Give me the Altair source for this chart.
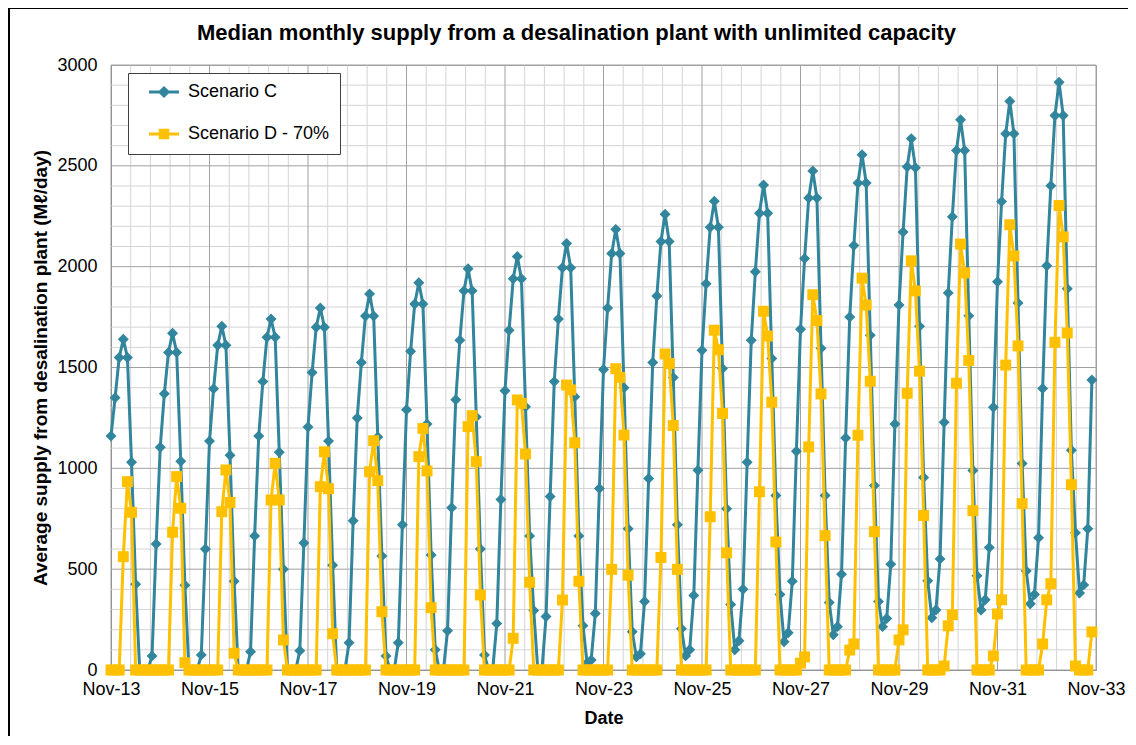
import altair as alt
import pandas as pd

TITLE = "Median monthly supply from a desalination plant with unlimited capacity"
Y_TITLE = "Average supply from desalination plant (M\u2113/day)"
X_TITLE = "Date"
SERIES = ["Scenario C", "Scenario D - 70%"]
COLORS = ["#31859C", "#FFC000"]
X_TICK_LABELS = ["Nov-13", "Nov-15", "Nov-17", "Nov-19", "Nov-21", "Nov-23",
                 "Nov-25", "Nov-27", "Nov-29", "Nov-31", "Nov-33"]
X_TICK_MONTHS = [0, 24, 48, 72, 96, 120, 144, 168, 192, 216, 240]
Y_TICKS = [0, 500, 1000, 1500, 2000, 2500, 3000]
X_MINOR_GRID = [round(4.8 * k, 2) for k in range(51) if k % 5 != 0]
Y_MINOR_GRID = [v for v in range(100, 3000, 100) if v % 500 != 0]

# Scenario C, one list per year, months Nov..Oct
c_2013 = [1160, 1350, 1550, 1640, 1550, 1030, 425, 0, 0, 0, 70, 625]
c_2014 = [1105, 1370, 1575, 1670, 1575, 1035, 420, 0, 0, 0, 75, 600]
c_2015 = [1135, 1395, 1610, 1705, 1610, 1065, 440, 0, 0, 0, 90, 665]
c_2016 = [1160, 1430, 1650, 1740, 1650, 1080, 500, 0, 0, 0, 95, 630]
c_2017 = [1205, 1475, 1700, 1795, 1700, 1135, 520, 0, 0, 0, 135, 740]
c_2018 = [1250, 1525, 1755, 1865, 1755, 1155, 565, 70, 0, 0, 135, 720]
c_2019 = [1290, 1580, 1815, 1920, 1815, 1220, 570, 100, 0, 0, 195, 805]
c_2020 = [1340, 1635, 1880, 1990, 1880, 1255, 600, 75, 0, 0, 230, 845]
c_2021 = [1385, 1685, 1940, 2050, 1940, 1305, 665, 295, 0, 0, 265, 860]
c_2022 = [1430, 1740, 1995, 2115, 1995, 1355, 665, 220, 35, 50, 280, 900]
c_2023 = [1490, 1795, 2065, 2185, 2065, 1400, 700, 190, 65, 80, 340, 950]
c_2024 = [1525, 1855, 2125, 2260, 2125, 1450, 720, 205, 70, 100, 370, 990]
c_2025 = [1585, 1915, 2195, 2325, 2195, 1495, 800, 325, 100, 145, 400, 1030]
c_2026 = [1635, 1975, 2265, 2405, 2265, 1545, 865, 375, 140, 185, 440, 1085]
c_2027 = [1690, 2040, 2340, 2475, 2340, 1595, 865, 335, 175, 215, 475, 1150]
c_2028 = [1750, 2105, 2415, 2555, 2415, 1660, 915, 340, 215, 255, 525, 1220]
c_2029 = [1810, 2172, 2495, 2635, 2490, 1705, 955, 442, 259, 298, 551, 1228]
c_2030 = [1870, 2248, 2576, 2729, 2576, 1756, 989, 467, 298, 348, 607, 1303]
c_2031 = [1925, 2323, 2659, 2820, 2659, 1820, 1024, 491, 328, 374, 656, 1396]
c_2032 = [2005, 2401, 2750, 2914, 2750, 1890, 1090, 680, 382, 422, 700, 1438]

# Scenario D - 70%, one list per year, months Nov..Oct
d_2013 = [0, 0, 0, 562, 934, 782, 0, 0, 0, 0, 0, 0]
d_2014 = [0, 0, 0, 683, 959, 802, 36, 0, 0, 0, 0, 0]
d_2015 = [0, 0, 0, 785, 992, 831, 83, 0, 0, 0, 0, 0]
d_2016 = [0, 0, 0, 843, 1025, 843, 149, 0, 0, 0, 0, 0]
d_2017 = [0, 0, 0, 909, 1082, 899, 180, 0, 0, 0, 0, 0]
d_2018 = [0, 0, 0, 983, 1137, 939, 289, 0, 0, 0, 0, 0]
d_2019 = [0, 0, 0, 1058, 1198, 987, 309, 0, 0, 0, 0, 0]
d_2020 = [0, 0, 0, 1207, 1261, 1033, 372, 0, 0, 0, 0, 0]
d_2021 = [0, 0, 157, 1339, 1322, 1071, 435, 0, 0, 0, 0, 0]
d_2022 = [0, 0, 347, 1413, 1389, 1127, 440, 0, 0, 0, 0, 0]
d_2023 = [0, 0, 499, 1494, 1451, 1165, 470, 0, 0, 0, 0, 0]
d_2024 = [0, 0, 558, 1567, 1520, 1212, 499, 0, 0, 0, 0, 0]
d_2025 = [0, 0, 760, 1685, 1588, 1272, 581, 0, 0, 0, 0, 0]
d_2026 = [0, 0, 884, 1779, 1656, 1328, 635, 0, 0, 0, 0, 0]
d_2027 = [34, 65, 1106, 1861, 1733, 1369, 666, 0, 0, 0, 0, 0]
d_2028 = [99, 129, 1164, 1943, 1810, 1432, 686, 0, 0, 0, 0, 0]
d_2029 = [149, 199, 1372, 2029, 1880, 1482, 766, 0, 0, 0, 0, 20]
d_2030 = [219, 274, 1422, 2112, 1969, 1535, 790, 0, 0, 0, 0, 70]
d_2031 = [278, 348, 1512, 2208, 2053, 1607, 825, 0, 0, 0, 0, 129]
d_2032 = [348, 428, 1625, 2303, 2148, 1671, 919, 20, 0, 0, 0, 189]

scen_c = (c_2013 + c_2014 + c_2015 + c_2016 + c_2017 + c_2018 + c_2019 + c_2020
          + c_2021 + c_2022 + c_2023 + c_2024 + c_2025 + c_2026 + c_2027 + c_2028
          + c_2029 + c_2030 + c_2031 + c_2032)
scen_d = (d_2013 + d_2014 + d_2015 + d_2016 + d_2017 + d_2018 + d_2019 + d_2020
          + d_2021 + d_2022 + d_2023 + d_2024 + d_2025 + d_2026 + d_2027 + d_2028
          + d_2029 + d_2030 + d_2031 + d_2032)

rows = []
for i, v in enumerate(scen_c):
    rows.append({"month": i, "value": v, "series": SERIES[0]})
for i, v in enumerate(scen_d):
    rows.append({"month": i, "value": v, "series": SERIES[1]})
df = pd.DataFrame(rows)

FONT = "Liberation Sans"
xs = alt.Scale(domain=[0, 240], nice=False, zero=False)
ys = alt.Scale(domain=[0, 3000], nice=False)

label_expr = "[" + ",".join("'%s'" % s for s in X_TICK_LABELS) + "][round(datum.value/24)]"

x_axis = alt.Axis(values=X_TICK_MONTHS, grid=False, labelExpr=label_expr,
                  labelFont=FONT, labelFontSize=18, labelColor="black",
                  labelPadding=10, ticks=False, domainColor="#868686",
                  title=X_TITLE, titleFont=FONT, titleFontSize=18,
                  titleFontWeight="bold", titleColor="black", titlePadding=11,
                  labelFlush=False, labelOverlap=False)
y_axis = alt.Axis(values=Y_TICKS, grid=False, format="d", labelFont=FONT,
                  labelFontSize=18, labelColor="black", labelPadding=14,
                  ticks=False, domainColor="#868686", title=Y_TITLE,
                  titleFont=FONT, titleFontSize=19, titleFontWeight="bold",
                  titleColor="black", titlePadding=6)


def X(field):
    return alt.X(field, scale=xs, axis=x_axis)


def Y(field):
    return alt.Y(field, scale=ys, axis=y_axis)


# grid lines
gx_minor = alt.Chart(pd.DataFrame({"month": X_MINOR_GRID})).mark_rule(
    color="#d4d4d4", strokeWidth=1).encode(x=X("month:Q"))
gy_minor = alt.Chart(pd.DataFrame({"value": Y_MINOR_GRID})).mark_rule(
    color="#d4d4d4", strokeWidth=1).encode(y=Y("value:Q"))
gx_major = alt.Chart(pd.DataFrame({"month": X_TICK_MONTHS})).mark_rule(
    color="#a0a0a0", strokeWidth=1).encode(x=X("month:Q"))
gy_major = alt.Chart(pd.DataFrame({"value": Y_TICKS})).mark_rule(
    color="#a0a0a0", strokeWidth=1).encode(y=Y("value:Q"))

base = alt.Chart(df)
c_data = base.transform_filter(alt.datum.series == SERIES[0])
d_data = base.transform_filter(alt.datum.series == SERIES[1])

line_c = c_data.mark_line(color=COLORS[0], strokeWidth=3).encode(
    x=X("month:Q"), y=Y("value:Q"))
pts_c = c_data.mark_point(shape="diamond", filled=True, size=120, color=COLORS[0],
                          opacity=1, strokeWidth=1).encode(x=X("month:Q"), y=Y("value:Q"))
line_d = d_data.mark_line(color=COLORS[1], strokeWidth=3).encode(
    x=X("month:Q"), y=Y("value:Q"))
pts_d = d_data.mark_point(shape="square", filled=True, size=120, color=COLORS[1],
                          opacity=1, strokeWidth=1).encode(x=X("month:Q"), y=Y("value:Q"))

SYM_C = "M-3,0L3,0M0,-0.8L0.8,0L0,0.8L-0.8,0Z"
SYM_D = "M-3,0L3,0M-0.75,-0.75L0.75,-0.75L0.75,0.75L-0.75,0.75Z"
leg = alt.Legend(orient="none", legendX=17, legendY=8, title=None,
                 symbolSize=100, symbolStrokeWidth=3, symbolOffset=17,
                 labelOffset=15, labelFont=FONT, labelFontSize=18,
                 labelColor="black", rowPadding=22, padding=10,
                 strokeColor="#404040", fillColor="white", labelLimit=300)
leg_scale = alt.Scale(domain=SERIES, range=COLORS)
legend_layer = base.transform_filter("false").mark_point(filled=False, opacity=1).encode(
    color=alt.Color("series:N", scale=leg_scale, legend=leg),
    fill=alt.Fill("series:N", scale=leg_scale, legend=leg),
    shape=alt.Shape("series:N", scale=alt.Scale(domain=SERIES, range=[SYM_C, SYM_D]),
                    legend=leg))

one = pd.DataFrame({"k": [0]})
border_left = alt.Chart(one).mark_rule(color="black", strokeWidth=2).encode(
    x=alt.value(-102), y=alt.value(-57), y2=alt.value(672))
border_top = alt.Chart(one).mark_rule(color="black", strokeWidth=2).encode(
    x=alt.value(-102), x2=alt.value(1020), y=alt.value(-57))

chart = alt.layer(gx_minor, gy_minor, gx_major, gy_major, line_c, pts_c, line_d, pts_d,
                  legend_layer, border_left, border_top).properties(
    width=985, height=605,
    padding={"left": 103, "top": 57, "right": 32, "bottom": 66},
    autosize=alt.AutoSizeParams(type="none"),
    title=alt.TitleParams(TITLE, font=FONT, fontSize=22, fontWeight="bold",
                          color="black", anchor="middle", dx=-27, offset=-38),
).configure_view(stroke="#a0a0a0")

chart.save("out.html", embed_options={"renderer": "svg", "actions": False})
